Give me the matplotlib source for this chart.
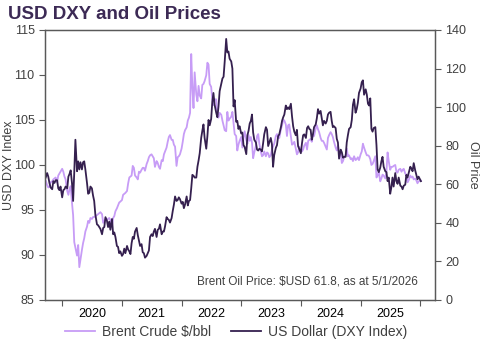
import matplotlib.pyplot as plt
import numpy as np
import pandas as pd

# weekly closes (1st, 8th, 15th, 22nd of each month), Sep 2019 -> Jan 2026
dxy = [
    # 2019
    98.3, 98.6,
    99.1, 98.7, 98.0, 97.5,
    97.3, 98.2, 98.0, 98.3,
    98.3, 97.4, 97.2, 97.6,
    # 2020
    96.4, 97.2, 97.3, 97.6,
    97.4, 98.7, 99.0, 99.4,
    98.0, 96.0, 99.2, 102.8,
    99.3, 100.4, 99.5, 100.3,
    99.5, 100.3, 100.4, 99.5,
    98.0, 96.8, 96.9, 97.6,
    97.4, 96.6, 96.0, 94.5,
    93.4, 93.3, 93.1, 92.9,
    92.3, 93.0, 93.1, 94.2,
    93.8, 93.1, 93.7, 92.8,
    94.0, 92.3, 92.5, 92.0,
    91.0, 90.9, 90.2, 90.4,
    # 2021
    89.9, 90.1, 90.7, 90.2,
    91.0, 90.6, 90.4, 90.1,
    91.3, 92.0, 91.8, 92.6,
    93.0, 92.2, 91.6, 91.0,
    91.2, 90.3, 90.2, 89.7,
    89.9, 90.2, 90.5, 92.0,
    92.3, 92.1, 92.6, 92.9,
    92.0, 92.8, 92.9, 93.4,
    92.3, 92.6, 92.6, 93.2,
    94.2, 94.0, 93.9, 93.6,
    94.1, 94.9, 95.6, 96.5,
    96.0, 96.1, 96.4, 96.2,
    # 2022
    95.7, 95.9, 95.2, 95.6,
    96.5, 95.5, 96.0, 96.1,
    97.4, 98.9, 98.8, 98.6,
    98.6, 99.8, 100.5, 101.3,
    103.0, 103.8, 104.5, 103.0,
    101.8, 103.2, 105.0, 104.4,
    105.1, 107.0, 108.0, 106.7,
    105.8, 105.3, 106.5, 108.2,
    109.0, 109.6, 109.8, 111.5,
    114.0, 112.5, 112.6, 111.8,
    111.5, 110.7, 106.5, 107.2,
    104.8, 104.9, 104.0, 104.3,
    # 2023
    103.5, 103.6, 102.2, 102.0,
    101.2, 103.3, 103.8, 104.6,
    104.9, 105.6, 103.6, 102.8,
    102.5, 101.7, 101.6, 101.8,
    101.7, 101.5, 102.4, 103.4,
    104.2, 103.9, 102.1, 102.5,
    103.0, 102.3, 99.8, 101.1,
    101.9, 102.2, 103.2, 103.4,
    104.2, 104.9, 105.3, 105.6,
    106.6, 106.2, 106.4, 106.2,
    106.8, 105.4, 104.3, 103.7,
    103.3, 103.9, 102.1, 101.8,
    # 2024
    101.3, 102.4, 103.3, 103.4,
    103.0, 104.1, 104.3, 104.0,
    103.9, 102.8, 103.4, 104.2,
    104.5, 105.2, 106.2, 105.7,
    106.0, 105.2, 104.4, 104.9,
    104.6, 104.9, 105.6, 105.8,
    105.9, 104.9, 104.2, 104.3,
    104.1, 102.9, 102.5, 100.7,
    101.7, 101.4, 100.8, 100.9,
    100.9, 102.5, 103.3, 104.0,
    104.2, 105.0, 106.7, 107.3,
    105.8, 106.2, 106.9, 108.0,
    # 2025
    108.5, 109.2, 109.4, 107.8,
    108.4, 107.8, 106.8, 106.6,
    107.4, 104.0, 103.7, 104.1,
    104.2, 102.2, 99.5, 99.2,
    99.7, 100.4, 100.9, 99.8,
    99.3, 99.2, 98.2, 98.6,
    96.8, 97.5, 98.6, 97.6,
    99.1, 98.2, 97.9, 98.6,
    97.7, 97.6, 97.3, 97.7,
    97.8, 98.9, 98.6, 99.1,
    99.8, 99.6, 99.3, 100.2,
    99.4, 98.9, 98.4, 98.7,
    # 2026
    98.2,
]

brent = [
    # 2019
    58.5, 62.0,
    59.5, 58.3, 58.8, 61.0,
    61.5, 62.5, 63.0, 63.5,
    61.0, 64.5, 65.5, 66.5,
    # 2020
    68.0, 66.5, 64.0, 62.5,
    56.5, 54.5, 57.5, 59.0,
    50.5, 44.0, 30.0, 27.0,
    23.0, 28.5, 17.0, 21.0,
    26.0, 29.5, 32.0, 35.5,
    38.0, 41.0, 40.0, 42.5,
    42.0, 43.0, 43.0, 43.5,
    44.0, 44.5, 45.0, 45.5,
    44.5, 40.0, 41.0, 42.0,
    41.5, 42.0, 42.5, 41.5,
    38.5, 42.5, 43.5, 46.0,
    47.5, 49.0, 50.5, 51.0,
    # 2021
    51.8, 54.5, 55.0, 55.5,
    56.5, 60.5, 63.5, 64.0,
    64.5, 69.5, 68.5, 64.5,
    63.5, 62.5, 66.5, 66.0,
    67.5, 68.5, 68.5, 67.0,
    70.5, 72.0, 74.0, 75.0,
    75.5, 74.5, 73.5, 69.0,
    72.0, 71.0, 69.0, 68.0,
    72.5, 72.0, 75.5, 77.0,
    79.0, 82.0, 84.5, 85.5,
    83.0, 83.0, 80.5, 79.5,
    69.5, 74.0, 74.5, 75.5,
    # 2022
    78.5, 82.0, 86.0, 88.0,
    89.5, 93.0, 94.5, 97.0,
    127.5, 110.0, 99.5, 118.0,
    106.5, 103.0, 111.0, 106.0,
    104.5, 111.5, 112.0, 113.5,
    116.5, 123.0, 122.0, 112.0,
    110.5, 104.0, 101.0, 104.0,
    104.0, 96.5, 94.5, 97.0,
    96.0, 93.0, 90.5, 88.0,
    87.5, 97.5, 93.0, 94.0,
    95.0, 97.5, 91.5, 86.0,
    85.0, 77.5, 80.5, 82.5,
    # 2023
    84.5, 79.0, 84.0, 87.5,
    83.0, 81.0, 85.5, 82.5,
    84.5, 81.5, 73.5, 76.5,
    80.0, 85.0, 86.0, 81.0,
    77.0, 74.5, 75.0, 77.0,
    74.5, 76.5, 76.0, 74.0,
    75.0, 78.0, 79.5, 81.0,
    85.0, 86.0, 84.0, 84.0,
    88.5, 90.5, 93.5, 93.0,
    91.0, 85.0, 90.5, 91.0,
    85.0, 80.5, 81.0, 82.0,
    78.5, 75.5, 76.5, 79.5,
    # 2024
    77.5, 77.0, 78.0, 80.0,
    81.5, 78.0, 82.5, 83.0,
    83.5, 82.0, 85.5, 85.0,
    89.0, 90.5, 88.5, 87.0,
    84.0, 82.5, 82.5, 81.5,
    79.5, 78.0, 84.0, 85.5,
    87.0, 86.0, 84.5, 82.0,
    79.0, 77.5, 80.0, 76.5,
    76.0, 71.0, 72.0, 74.0,
    75.0, 78.5, 74.5, 75.0,
    73.0, 73.5, 72.0, 74.5,
    72.5, 73.0, 74.0, 72.5,
    # 2025
    75.5, 77.0, 81.0, 79.0,
    76.5, 75.0, 75.0, 74.5,
    73.0, 70.0, 70.5, 72.0,
    74.5, 63.5, 64.5, 66.5,
    61.5, 63.0, 65.0, 64.5,
    63.0, 66.5, 76.5, 72.0,
    67.5, 69.0, 69.0, 69.5,
    70.0, 66.5, 66.0, 67.5,
    68.0, 66.5, 67.5, 68.0,
    65.5, 65.0, 61.0, 62.0,
    64.5, 63.5, 64.0, 62.5,
    63.0, 62.0, 60.5, 61.5,
    # 2026
    61.8,
]

years = [2020, 2021, 2022, 2023, 2024, 2025]
latest = brent[-1]

months = pd.period_range('2019-10', '2025-12', freq='M')
dates = ([pd.Timestamp('2019-09-15'), pd.Timestamp('2019-09-22')]
         + [pd.Timestamp(p.year, p.month, d) for p in months for d in (1, 8, 15, 22)]
         + [pd.Timestamp('2026-01-05')])

c_oil = '#c79cf6'
c_usd = '#35204f'
c_txt = '#404040'
c_axis = '#595959'

plt.rcParams['font.family'] = ['Liberation Sans', 'DejaVu Sans']
plt.rcParams['font.size'] = 9

fig = plt.figure(figsize=(4.82, 3.44), dpi=100)
ax = fig.add_axes([0.0934, 0.128, 0.809, 0.785])
ax2 = ax.twinx()

l_oil, = ax2.plot(dates, brent, color=c_oil, lw=1.3, label='Brent Crude $/bbl')
l_usd, = ax.plot(dates, dxy, color=c_usd, lw=1.3, label='US Dollar (DXY Index)')

# keep the dollar line above the oil line
ax.set_zorder(ax2.get_zorder() + 1)
ax.patch.set_visible(False)

ax.set_xlim(pd.Timestamp('2019-09-18'), pd.Timestamp('2026-04-01'))
ax.set_ylim(85, 115)
ax.set_yticks(np.arange(85, 116, 5))
ax2.set_ylim(0, 140)
ax2.set_yticks(np.arange(0, 141, 20))

ax.set_xticks([pd.Timestamp(f'{y}-01-01') for y in years + [2026]])
ax.set_xticks([pd.Timestamp(f'{y}-07-01') for y in years], minor=True)
ax.set_xticklabels([])
ax.set_xticklabels([str(y) for y in years], minor=True)
ax.tick_params(axis='x', which='minor', length=0, pad=6)
ax.tick_params(axis='x', which='major', length=4, color=c_axis)

for a in (ax, ax2):
    for s in a.spines.values():
        s.set_color(c_axis)
        s.set_linewidth(0.9)
    a.tick_params(axis='y', length=4, color=c_axis, labelcolor=c_txt, labelsize=9)
    a.tick_params(axis='x', labelcolor=c_txt, labelsize=9)

ax.set_ylabel('USD DXY Index', color=c_txt, fontsize=9, labelpad=-1)
ax2.set_ylabel('Oil Price', color=c_txt, fontsize=9, rotation=-90, labelpad=9)

ax.text(0.955, 0.045, f'Brent Oil Price: $USD {latest}, as at 5/1/2026',
        transform=ax.transAxes, ha='right', va='bottom', fontsize=8.5, color=c_txt)

fig.text(0.017, 0.958, 'USD DXY and Oil Prices', fontsize=13.5, fontweight='bold',
         color='#3c2a55', ha='left', va='center')

fig.legend(handles=[l_oil, l_usd], loc='center', bbox_to_anchor=(0.49, 0.035),
           ncol=2, frameon=False, fontsize=10, handlelength=2.2,
           handletextpad=0.5, columnspacing=1.4, labelcolor=c_txt)

fig.savefig('out.png', dpi=100)
